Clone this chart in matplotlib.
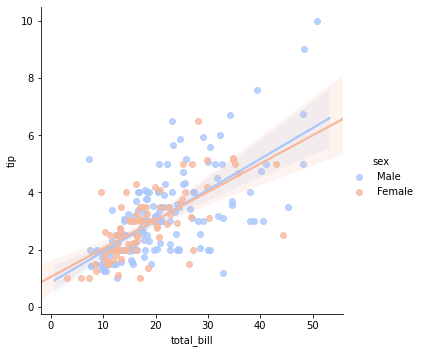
import matplotlib
matplotlib.use("Agg")
import matplotlib.pyplot as plt
import seaborn as sns
import pandas as pd
import numpy as np

total_bill = [16.99,10.34,21.01,23.68,24.59,25.29,8.77,26.88,15.04,14.78,10.27,35.26,15.42,18.43,14.83,21.58,10.33,16.29,16.97,20.65,
17.92,20.29,15.77,39.42,19.82,17.81,13.37,12.69,21.70,19.65,9.55,18.35,15.06,20.69,17.78,24.06,16.31,16.93,18.69,31.27,
16.04,17.46,13.94,9.68,30.40,18.29,22.23,32.40,28.55,18.04,12.54,10.29,34.81,9.94,25.56,19.49,38.01,26.41,11.24,48.27,
20.29,13.81,11.02,18.29,17.59,20.08,16.45,3.07,20.23,15.01,12.02,17.07,26.86,25.28,14.73,10.51,17.92,27.20,22.76,17.29,
19.44,16.66,10.07,32.68,15.98,34.83,13.03,18.28,24.71,21.16,28.97,22.49,5.75,16.32,22.75,40.17,27.28,12.03,21.01,12.46,
11.35,15.38,44.30,22.42,20.92,15.36,20.49,25.21,18.24,14.31,14.00,7.25,38.07,23.95,25.71,17.31,29.93,10.65,12.43,24.08,
11.69,13.42,14.26,15.95,12.48,29.80,8.52,14.52,11.38,22.82,19.08,20.27,11.17,12.26,18.26,8.51,10.33,14.15,16.00,13.16,
17.47,34.30,41.19,27.05,16.43,8.35,18.64,11.87,9.78,7.51,14.07,13.13,17.26,24.55,19.77,29.85,48.17,25.00,13.39,16.49,
21.50,12.66,16.21,13.81,17.51,24.52,20.76,31.71,10.59,10.63,50.81,15.81,7.25,31.85,16.82,32.90,17.89,14.48,9.60,34.63,
34.65,23.33,45.35,23.17,40.55,20.69,20.90,30.46,18.15,23.10,15.69,19.81,28.44,15.48,16.58,7.56,10.34,43.11,13.00,13.51,
18.71,12.74,13.00,16.40,20.53,16.47,26.59,38.73,24.27,12.76,30.06,25.89,48.33,13.27,28.17,12.90,28.15,11.59,7.74,30.14,
12.16,13.42,8.58,15.98,13.42,16.27,10.09,20.45,13.28,22.12,24.01,15.69,11.61,10.77,15.53,10.07,12.60,32.83,35.83,29.03,
27.18,22.67,17.82,18.78]

tip = [1.01,1.66,3.50,3.31,3.61,4.71,2.00,3.12,1.96,3.23,1.71,5.00,1.57,3.00,3.02,3.92,1.67,3.71,3.50,3.35,
4.08,2.75,2.23,7.58,3.18,2.34,2.00,2.00,4.30,3.00,1.45,2.50,3.00,2.45,3.27,3.60,2.00,3.07,2.31,5.00,
2.24,2.54,3.06,1.32,5.60,3.00,5.00,6.00,2.05,3.00,2.50,2.60,5.20,1.56,4.34,3.51,3.00,1.50,1.76,6.73,
3.21,2.00,1.98,3.76,2.64,3.15,2.47,1.00,2.01,2.09,1.97,3.00,3.14,5.00,2.20,1.25,3.08,4.00,3.00,2.71,
3.00,3.40,1.83,5.00,2.03,5.17,2.00,4.00,5.85,3.00,3.00,3.50,1.00,4.30,3.25,4.73,4.00,1.50,3.00,1.50,
2.50,3.00,2.50,3.48,4.08,1.64,4.06,4.29,3.76,4.00,3.00,1.00,4.00,2.55,4.00,3.50,5.07,1.50,1.80,2.92,
2.31,1.68,2.50,2.00,2.52,4.20,1.48,2.00,2.00,2.18,1.50,2.83,1.50,2.00,3.25,1.25,2.00,2.00,2.00,2.75,
3.50,6.70,5.00,5.00,2.30,1.50,1.36,1.63,1.73,2.00,2.50,2.00,2.74,2.00,2.00,5.14,5.00,3.75,2.61,2.00,
3.50,2.50,2.00,2.00,3.00,3.48,2.24,4.50,1.61,2.00,10.00,3.16,5.15,3.18,4.00,3.11,2.00,2.00,4.00,3.55,
3.68,5.65,3.50,6.50,3.00,5.00,3.50,2.00,3.50,4.00,1.50,4.19,2.56,2.02,4.00,1.44,2.00,5.00,2.00,2.00,
4.00,2.01,2.00,2.50,4.00,3.23,3.41,3.00,2.03,2.23,2.00,5.16,9.00,2.50,6.50,1.10,3.00,1.50,1.44,3.09,
2.20,3.48,1.92,3.00,1.58,2.50,2.00,3.00,2.72,2.88,2.00,3.00,3.39,1.47,3.00,1.25,1.00,1.17,4.67,5.92,
2.00,2.00,1.75,3.00]

sex = ["F","M","M","M","F","M","M","M","M","M","M","F","M","M","F","M","F","M","F","M",
"M","F","F","M","M","M","M","M","M","F","M","M","F","F","M","M","M","F","M","M",
"M","M","M","M","M","M","M","M","M","M","M","F","F","M","M","M","M","F","M","M",
"M","M","M","M","M","M","F","F","M","M","M","F","F","F","F","M","M","M","M","M",
"M","M","F","M","M","F","M","M","M","M","M","M","F","F","F","M","M","M","M","M",
"F","F","F","F","F","M","M","M","M","F","M","F","M","M","F","F","M","F","F","F",
"M","F","M","M","F","F","M","F","F","M","M","F","F","F","F","F","F","F","M","F",
"F","M","M","F","F","F","F","F","M","M","M","M","M","M","M","F","M","F","F","M",
"M","M","F","M","F","M","M","M","F","F","M","M","M","M","M","M","M","M","F","M",
"M","M","M","M","M","M","F","M","F","M","M","F","M","M","M","M","M","F","F","M",
"M","F","F","F","M","F","M","M","M","F","M","M","M","F","F","F","M","M","M","F",
"M","F","M","F","M","F","F","M","M","F","M","M","M","M","M","M","M","M","F","M",
"F","M","M","F"]
sex = ["Male" if s == "M" else "Female" for s in sex]
hue_order = ["Male", "Female"]

df = pd.DataFrame({"total_bill": total_bill, "tip": tip, "sex": sex})


def reg(*args, **kwargs):
    ax = plt.gca()
    n = len(ax.lines)
    sns.regplot(*args, ax=ax, **kwargs)
    for ln in ax.lines[n:]:
        ln.sticky_edges.x.clear()


g = sns.FacetGrid(df, hue="sex", hue_order=hue_order, palette="coolwarm", height=5, aspect=1)
ax = g.ax
ax.scatter(df["total_bill"], np.ones(len(df)) * df["tip"].mean()).remove()
g.map_dataframe(reg, x="total_bill", y="tip", truncate=False, seed=0)
last = ax.lines[-1].get_xdata()
ax.set_xlim(last[0], last[-1])
g.set_axis_labels("total_bill", "tip")
g.add_legend()
g.savefig("out.png", dpi=72, bbox_inches="tight")
